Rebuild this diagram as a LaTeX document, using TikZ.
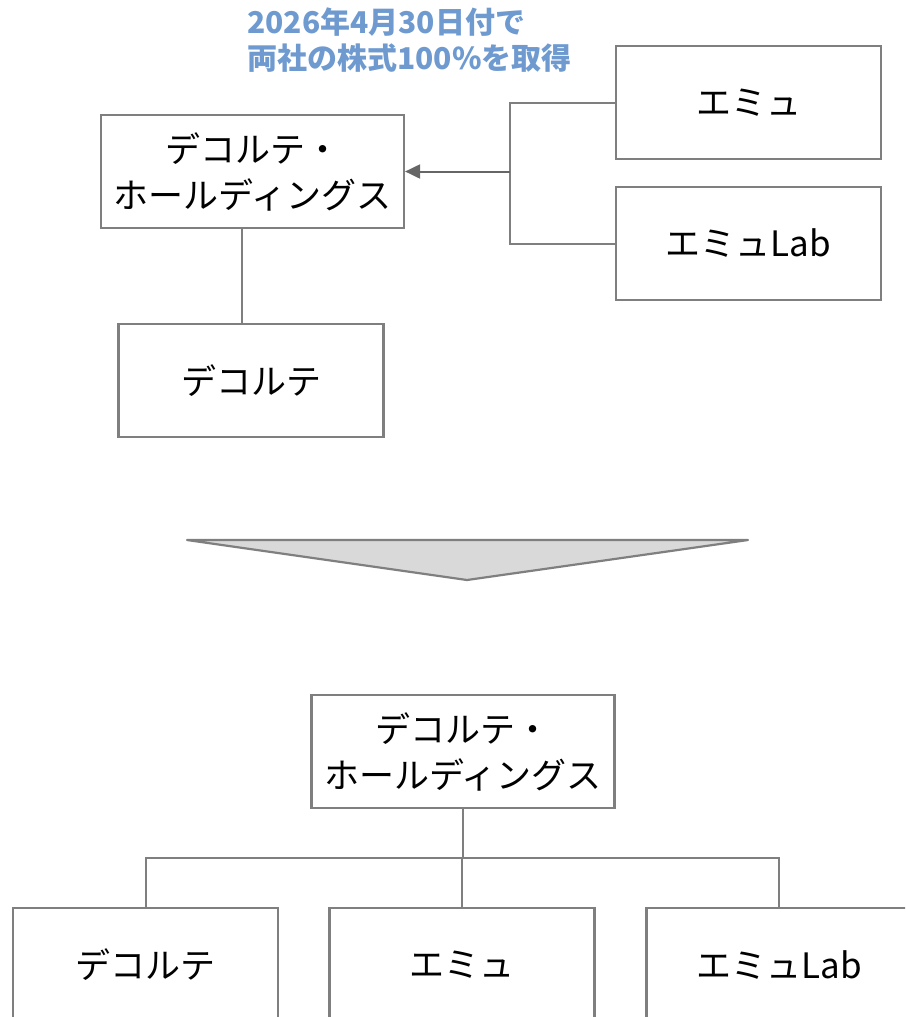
\documentclass[tikz,border=0pt]{standalone}
\usepackage{fontspec}
\usepackage{tikz}
\newfontfamily\jpfont{Noto Sans CJK JP}
\usetikzlibrary{arrows.meta,positioning}
\definecolor{boxgray}{HTML}{7F7F7F}
\definecolor{notecolor}{HTML}{6E9AD0}
\definecolor{arrowfill}{HTML}{D9D9D9}
\tikzset{
  company/.style={draw=boxgray,line width=2.2pt,fill=white,inner sep=0pt,
    minimum width=265pt,minimum height=113pt,align=center,
    font=\jpfont\fontsize{35}{46}\selectfont},
  holding/.style={company,minimum width=303pt},
  link/.style={draw=boxgray,line width=2pt},
}
\begin{document}
\begin{tikzpicture}[x=1pt,y=-1pt]
\useasboundingbox (0,0) rectangle (905,1017);
\clip (0,0) rectangle (905,1017);
% Before: acquisition
\node[holding] (hdA) at (252.5,171.5) {デコルテ・\\ホールディングス};
\node[company] (decA) at (251,380.5) {デコルテ};
\node[company] (emuA) at (748.5,102.5) {エミュ};
\node[company] (labA) at (748.5,243.5) {エミュLab};
\coordinate (joinA) at (510,171.5);
\draw[link] (hdA.south -| decA.north) ++(-9,0) coordinate (hdfoot) -- (hdfoot |- decA.north);
\draw[link] (emuA.west) -| (joinA) |- (labA.west);
\draw[link,-{Triangle[length=15pt,width=14pt]},color=boxgray!80!black] (joinA) -- (hdA.east);
\node[font=\jpfont\bfseries\fontsize{30}{36}\selectfont,text=notecolor,align=left,
  anchor=west,inner sep=0pt] (note) at (247,40) {2026年4月30日付で\\両社の株式100\%を取得};
% Transition arrow
\filldraw[draw=boxgray,fill=arrowfill,line width=2.2pt,line join=round]
  (187,540) -- (748,540) -- (467,580) -- cycle;
% After: group structure
\node[holding] (hdB) at (463,751.5) {デコルテ・\\ホールディングス};
\node[company] (decB) at (145.5,964.5) {デコルテ};
\node[company] (emuB) at (462,964.5) {エミュ};
\node[company] (labB) at (779,964.5) {エミュLab};
\coordinate (busB) at (463,858);
\draw[link] (hdB.south) -- (busB);
\draw[link] (decB.north) |- (busB) -| (labB.north);
\draw[link] (emuB.north) -- (emuB.north |- busB);
\end{tikzpicture}
\end{document}
